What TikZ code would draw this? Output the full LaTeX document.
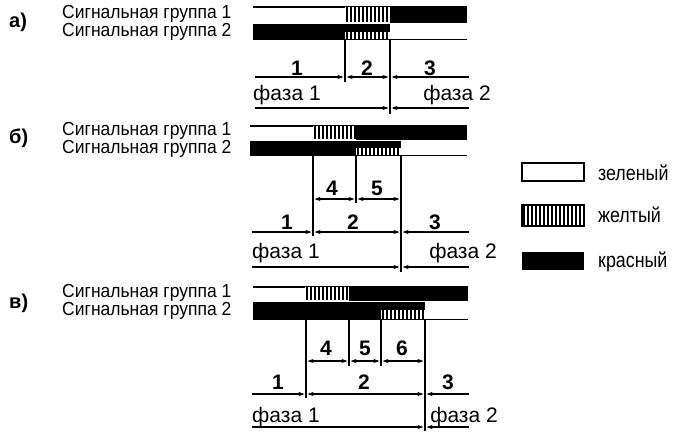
\documentclass[tikz,border=0pt]{standalone}
\usepackage{fontspec}
\setmainfont{Liberation Sans}
\usetikzlibrary{arrows.meta}
\tikzset{
  grp/.style={font=\fontsize{17.5}{20}\selectfont, anchor=base west, inner sep=0pt, yscale=1.08},
  sec/.style={font=\bfseries\fontsize{20}{22}\selectfont, anchor=base west, inner sep=0pt},
  num/.style={font=\bfseries\fontsize{21}{24}\selectfont, anchor=base, inner sep=0pt},
  phl/.style={font=\fontsize{21}{24}\selectfont, anchor=base west, inner sep=0pt},
  phr/.style={font=\fontsize{21}{24}\selectfont, anchor=base east, inner sep=0pt},
  leg/.style={font=\fontsize{21}{24}\selectfont, anchor=base west, inner sep=0pt, xscale=0.85},
  rule/.style={line width=1.4pt},
  vline/.style={line width=1.4pt},
  red/.style={fill=black},
  hatch/.style={line width=1.6pt},
  dimline/.style={line width=1.2pt, shorten >=1.5pt, shorten <=1.5pt, arrows={-}},
  tip/.tip={Stealth[length=6pt,width=4pt]},
}
\newcommand{\yel}[4]{%
  \fill[white] (#1,#2) rectangle (#3,#4);
  \begin{scope}
    \clip (#1,#2) rectangle (#3,#4);
    \pgfmathsetmacro\hsA{#1+2}\pgfmathsetmacro\hsB{#1+6}
    \foreach \xx in {\hsA,\hsB,...,#3} \draw[hatch] (\xx,#2) -- (\xx,#4);
  \end{scope}}
\begin{document}
\begin{tikzpicture}[x=1pt,y=-1pt]
\useasboundingbox (0,0) rectangle (676,431);
\fill[white] (0,0) rectangle (676,431);

% ================= a) =================
\node[sec] (la) at (9,27) {а)};
\node[grp] (ga1) at (62,18.5) {Сигнальная группа 1};
\node[grp] (ga2) at (62,36.5) {Сигнальная группа 2};
\draw[rule] (253,7) -- (467,7);
\draw[rule] (253,39.5) -- (467,39.5);
\yel{345}{7}{390}{22}
\fill[red] (390,7) rectangle (467,23);
\fill[red] (253,24) rectangle (390,39.5);
\yel{345}{32}{390}{39}
\draw[vline] (345,39) -- (345,82);
\draw[vline] (390,39) -- (390,114);
\draw[dimline,-tip] (253,77) -- (345,77);
\draw[dimline,tip-tip] (345,77) -- (390,77);
\draw[dimline,tip-] (390,77) -- (470,77);
\draw[dimline,-tip] (253,108) -- (390,108);
\draw[dimline,tip-] (390,108) -- (470,108);
\node[num] (a1) at (297,75) {1};
\node[num] (a2) at (367,75) {2};
\node[num] (a3) at (430,75) {3};
\node[phl] (af1) at (253,100) {фаза 1};
\node[phr] (af2) at (491,100) {фаза 2};

% ================= б) =================
\node[sec] (lb) at (9,143) {б)};
\node[grp] (gb1) at (62,135) {Сигнальная группа 1};
\node[grp] (gb2) at (62,153) {Сигнальная группа 2};
\draw[rule] (250,126) -- (467,126);
\draw[rule] (250,155.5) -- (467,155.5);
\yel{313}{126}{356}{139}
\fill[red] (356,126) rectangle (467,140);
\fill[red] (250,141) rectangle (401,155.5);
\yel{356}{148}{401}{155}
\draw[vline] (313,155) -- (313,236);
\draw[vline] (356,155) -- (356,203);
\draw[vline] (401,155) -- (401,272);
\draw[dimline,tip-tip] (313,199) -- (356,199);
\draw[dimline,tip-tip] (356,199) -- (401,199);
\draw[dimline,-tip] (250,232) -- (313,232);
\draw[dimline,tip-tip] (313,232) -- (401,232);
\draw[dimline,tip-] (401,232) -- (470,232);
\draw[dimline,-tip] (250,267) -- (401,267);
\draw[dimline,tip-] (401,267) -- (470,267);
\node[num] (b4) at (332,195) {4};
\node[num] (b5) at (377,195) {5};
\node[num] (b1) at (287,229) {1};
\node[num] (b2) at (353,229) {2};
\node[num] (b3) at (435,229) {3};
\node[phl] (bf1) at (252,258) {фаза 1};
\node[phr] (bf2) at (497,258) {фаза 2};

% ================= в) =================
\node[sec] (lc) at (9,308) {в)};
\node[grp] (gc1) at (62,297) {Сигнальная группа 1};
\node[grp] (gc2) at (62,315) {Сигнальная группа 2};
\draw[rule] (253,287) -- (468,287);
\draw[rule] (253,319.5) -- (468,319.5);
\yel{305}{287}{349}{300}
\fill[red] (349,287) rectangle (468,301);
\fill[red] (253,302) rectangle (425,319.5);
\yel{381}{310}{425}{319}
\draw[vline] (306,319) -- (306,398);
\draw[vline] (349,319) -- (349,366);
\draw[vline] (381,319) -- (381,366);
\draw[vline] (425,319) -- (425,431);
\draw[dimline,tip-tip] (306,361) -- (349,361);
\draw[dimline,tip-tip] (349,361) -- (381,361);
\draw[dimline,tip-tip] (381,361) -- (425,361);
\draw[dimline,-tip] (250,394) -- (306,394);
\draw[dimline,tip-tip] (306,394) -- (425,394);
\draw[dimline,tip-] (425,394) -- (470,394);
\draw[dimline,-tip] (250,427) -- (425,427);
\draw[dimline,tip-] (425,427) -- (470,427);
\node[num] (c4) at (326,355) {4};
\node[num] (c5) at (365,355) {5};
\node[num] (c6) at (402,355) {6};
\node[num] (c1) at (278,389) {1};
\node[num] (c2) at (364,389) {2};
\node[num] (c3) at (448,389) {3};
\node[phl] (cf1) at (252,422) {фаза 1};
\node[phr] (cf2) at (498,422) {фаза 2};

% ================= legend =================
\draw[line width=1.6pt] (522,163) rectangle (584,181);
\yel{522}{205}{584}{226}
\draw[line width=1.4pt] (522,205) rectangle (584,226);
\fill[red] (522,252) rectangle (584,270);
\node[leg] (lg) at (598,180) {зеленый};
\node[leg] (ly) at (598,222) {желтый};
\node[leg] (lr) at (598,267) {красный};
\end{tikzpicture}
\end{document}
